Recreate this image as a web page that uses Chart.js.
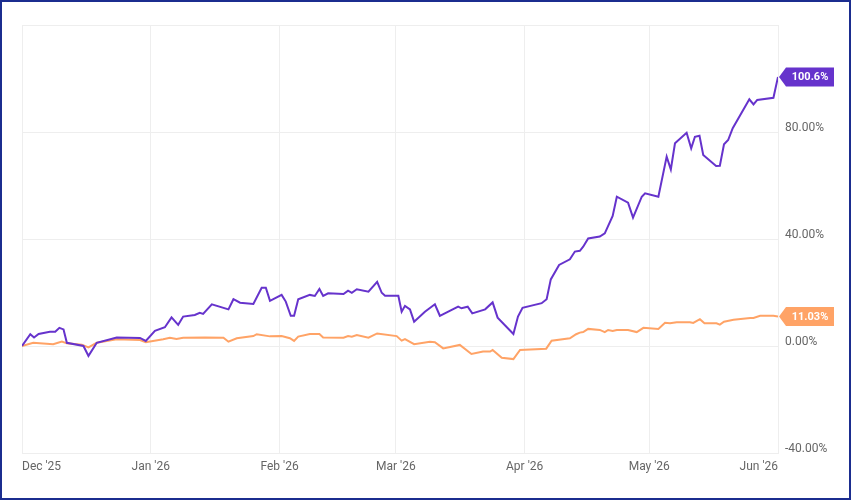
<!DOCTYPE html>
<html>
<head>
  <title>Total return, Dec '25 - Jun '26</title>
  <script src="https://cdn.jsdelivr.net/npm/chart.js"></script>
  <style>
    html, body { margin: 0; padding: 0; background: #fff; }
    #frame {
      width: 851px; height: 500px; box-sizing: border-box;
      border: 2px solid #1b2d8f; position: relative;
    }
  </style>
</head>
<body>
  <div id="frame"><canvas id="myChart"></canvas></div>
  <script>
    // x = days since 1 Dec 2025
    const monthDays = [0, 31, 62, 90, 121, 151, 182];
    const monthLabels = ["Dec '25", "Jan '26", "Feb '26", "Mar '26", "Apr '26", "May '26", "Jun '26"];

    const purpleDays = [0, 2, 2.9, 4, 6.7, 8, 9, 10, 10.8, 14.8, 16, 18, 22.8, 28.4, 29.8, 32, 34.4, 36, 37.6, 38.8,
      41.6, 42.8, 43.6, 45.7, 49.7, 50.9, 52.5, 55.7, 57.7, 58.7, 59.7, 62.5, 63.5, 64.7, 65.5, 66.5, 69.3, 70.5,
      71.6, 72.5, 73.7, 77.4, 78.5, 79.4, 80.6, 83.4, 85.5, 86.6, 87.4, 90.6, 91.4, 92.2, 93.4, 94.4, 97, 99.4,
      100.6, 105, 105.8, 107.3, 108.4, 111.5, 113.3, 114.5, 118.3, 119.4, 120.5, 125.1, 126.3, 127.3, 129.3,
      131.9, 133.1, 134.3, 135.1, 136.3, 139.1, 140.3, 142.2, 143.2, 145.9, 147.1, 149.2, 150, 153.2, 155.2,
      156.2, 157.2, 160, 161.1, 162, 163.1, 164, 167.1, 168, 169, 170, 171.1, 175.1, 176.1, 177, 180.9, 182];
    const purpleVals = [0, 4.4, 3.2, 4.5, 5.3, 5.3, 6.8, 6.2, 1.2, 0, -3.7, 1.2, 3.2, 3, 1.9, 5.7, 7, 10.7, 7.9, 11,
      11.6, 12.4, 12, 15.6, 13.7, 17.5, 16.2, 15.7, 21.8, 21.8, 16.9, 19.1, 16.6, 11.3, 11.3, 17.5, 19.1, 18.7,
      21.3, 18.7, 19.7, 19.4, 20.7, 19.9, 21.2, 20.3, 24, 19.9, 18.8, 18.8, 12.8, 15, 13.7, 9.1, 12.8, 15.6,
      11.3, 14.7, 14.1, 14.7, 12.2, 13.7, 16.3, 10.6, 4.5, 11, 14.3, 16, 17.5, 24.9, 30.3,
      32.4, 35.3, 35.6, 37.1, 40.2, 40.9, 42.1, 48.6, 55.8, 53.6, 48, 55.8, 57.1, 55.8, 70.8,
      66, 75.8, 79.7, 73.9, 78.2, 78.6, 71.4, 67.3, 67.4, 75.4, 77, 81.4, 92.2, 90.3, 92, 92.8, 100.6];

    const orangeDays = [0, 2.7, 7.5, 9.6, 10.8, 14.4, 16, 18, 22.8, 28.4, 29.8, 34, 35.6, 37.2, 38.8, 44, 48.5,
      49.7, 51.7, 55.7, 56.5, 59.7, 62.5, 64.5, 65.5, 66.5, 69.3, 71.6, 72.5, 77.4, 78.5, 79.4, 80.6, 83.4, 85.5,
      90.2, 91.4, 92.2, 94.4, 98.2, 99.4, 101.4, 105.4, 108.2, 111, 112.7, 113.3, 115.5, 118.3, 119.9, 126.2,
      127.5, 131.9, 133.4, 134.3, 135.1, 136.3, 139.1, 140.3, 141.1, 142.2, 143.2, 145.9, 148, 149.6, 153.2,
      154.8, 156, 157.6, 160.8, 161.6, 163.2, 164.3, 167.2, 168, 169, 171.3, 175.3, 176.1, 177.7, 180.9, 182];
    const orangeVals = [0, 1.2, 0.7, 1.7, 1, 0.5, -0.5, 1.2, 2.5, 2.2, 1.4, 2.5, 3.1, 2.6, 3.1, 3.2, 3.1,
      1.6, 2.9, 3.7, 4.4, 3.6, 3.7, 2.9, 1.9, 3.5, 4.5, 4.5, 3.2, 3.1, 3.7, 3.5, 4.1, 3.1, 4.7,
      3.7, 2, 2.6, 0.7, 1.6, 1.4, -0.9, 0.4, -3, -2.1, -2.1, -1.5, -4.4, -4.9, -1.5, -1,
      2, 2.9, 4.4, 5, 5.2, 6.4, 6, 5.2, 6, 5.6, 6, 6, 5.2, 6.8, 6.4,
      8.7, 8.5, 8.9, 8.9, 8.6, 10, 8.5, 8.5, 8, 9.1, 9.8, 10.5, 10.5, 11.3, 11.3, 11.03];

    const endLabels = ['100.6%', '11.03%'];
    const yTicks = [-40, 0, 40, 80, 120];

    const purple = '#6633cc';
    const orange = '#ffa366';
    const gridColor = '#eeeeee';

    function toPoints(xs, ys) {
      return xs.map((x, i) => ({ x: x, y: ys[i] }));
    }

    // little flag with an arrow at the end of each line
    const endFlags = {
      id: 'endFlags',
      afterDatasetsDraw(chart) {
        const ctx = chart.ctx;
        const area = chart.chartArea;
        chart.data.datasets.forEach((ds, i) => {
          const meta = chart.getDatasetMeta(i);
          const pt = meta.data[meta.data.length - 1];
          const y = pt.y;
          const x0 = area.right + 1;
          const h = 19, w = 48, arrow = 7;
          ctx.save();
          ctx.fillStyle = ds.borderColor;
          ctx.beginPath();
          ctx.moveTo(x0, y);
          ctx.lineTo(x0 + arrow, y - h / 2);
          ctx.lineTo(x0 + arrow + w, y - h / 2);
          ctx.lineTo(x0 + arrow + w, y + h / 2);
          ctx.lineTo(x0 + arrow, y + h / 2);
          ctx.closePath();
          ctx.fill();
          ctx.fillStyle = '#ffffff';
          ctx.font = 'bold 11px Roboto';
          ctx.textAlign = 'center';
          ctx.textBaseline = 'middle';
          ctx.fillText(endLabels[i], x0 + arrow + w / 2, y + 0.5);
          ctx.restore();
        });
      }
    };

    var ctx = document.getElementById('myChart').getContext('2d');
    var myChart = new Chart(ctx, {
      type: 'line',
      data: {
        datasets: [{
          label: 'Purple',
          data: toPoints(purpleDays, purpleVals),
          borderColor: purple,
          backgroundColor: purple,
          borderWidth: 2,
          tension: 0,
          pointRadius: 0
        }, {
          label: 'Orange',
          data: toPoints(orangeDays, orangeVals),
          borderColor: orange,
          backgroundColor: orange,
          borderWidth: 2,
          tension: 0,
          pointRadius: 0
        }]
      },
      options: {
        responsive: true,
        maintainAspectRatio: false,
        animation: false,
        layout: { padding: { left: 20, top: 23, right: 0, bottom: 0 } },
        plugins: {
          legend: { display: false },
          tooltip: { enabled: false }
        },
        scales: {
          x: {
            type: 'linear',
            min: monthDays[0],
            max: monthDays[monthDays.length - 1],
            afterBuildTicks: function (scale) {
              scale.ticks = monthDays.map(v => ({ value: v }));
            },
            afterFit: function (scale) { scale.height = 45; },
            grid: { color: gridColor, drawTicks: false },
            border: { color: gridColor },
            ticks: {
              align: 'inner',
              maxRotation: 0,
              autoSkip: false,
              padding: 7,
              color: '#666666',
              font: { family: 'Roboto', size: 12 },
              callback: function (value) {
                const i = monthDays.indexOf(value);
                return i >= 0 ? monthLabels[i] : '';
              }
            }
          },
          y: {
            position: 'right',
            min: yTicks[0],
            max: yTicks[yTicks.length - 1],
            afterBuildTicks: function (scale) {
              scale.ticks = yTicks.map(v => ({ value: v }));
            },
            afterFit: function (scale) { scale.width = 71; },
            grid: { color: gridColor, drawTicks: false },
            border: { color: gridColor },
            ticks: {
              padding: 7,
              labelOffset: -4,
              color: '#666666',
              font: { family: 'Roboto', size: 12 },
              callback: function (value) {
                return value === 120 ? '' : value.toFixed(2) + '%';
              }
            }
          }
        }
      },
      plugins: [endFlags]
    });
  </script>
</body>
</html>
